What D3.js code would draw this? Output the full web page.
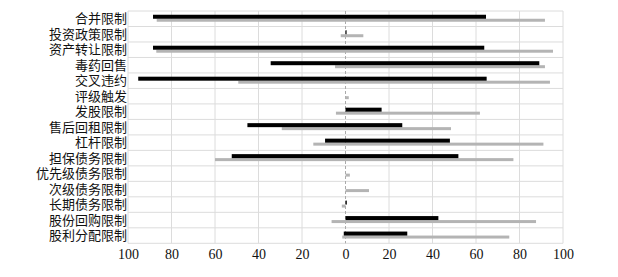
<!DOCTYPE html>
<html>
<head>
<meta charset="utf-8">
<script src="https://cdn.jsdelivr.net/npm/d3@7/dist/d3.min.js"></script>
<style>
  body { margin: 0; background: #fff; }
  svg { display: block; }
  .cat { font-family: "Noto Sans CJK SC", sans-serif; font-size: 13px; fill: #111; }
  .tick text { font-family: "Liberation Serif", serif; font-size: 14px; fill: #111; }
</style>
</head>
<body>
<script>
// categories, top to bottom
const categories = ["合并限制", "投资政策限制", "资产转让限制", "毒药回售", "交叉违约", "评级触发",
  "发股限制", "售后回租限制", "杠杆限制", "担保债务限制", "优先级债务限制", "次级债务限制",
  "长期债务限制", "股份回购限制", "股利分配限制"];

// black series: start / end of each range
const blackStart = [-88.5, 0, -88.5, -34.4, -95.3, 0, 0, -45.1, -9.4, -52.3, 0, 0, 0, 0, -0.8];
const blackEnd   = [64.6, 0.5, 63.8, 89.1, 64.9, 0, 16.6, 26.1, 48, 51.9, 0, 0, 0.6, 42.7, 28.4];

// gray series: start / end of each range
const grayStart = [-86.8, -2.2, -87, -4.8, -49.3, 0, -4.4, -29.3, -14.8, -60, 0, 0, -1.7, -6.4, -1.5];
const grayEnd   = [91.7, 8.2, 95.4, 91.7, 94, 1.5, 61.8, 48.5, 91, 77.2, 2, 10.8, 0, 87.6, 75.3];

const tickValues = [-100, -80, -60, -40, -20, 0, 20, 40, 60, 80, 100];

const w = 618, h = 277;
const plotLeft = 128, plotRight = 563, plotTop = 11, plotBottom = 243.3;

const svg = d3.select("body").append("svg")
  .attr("width", w)
  .attr("height", h);

const x = d3.scaleLinear().domain([-100, 100]).range([plotLeft, plotRight]);
const y = d3.scaleBand().domain(categories).range([plotTop, plotBottom]);

// grid
const grid = svg.append("g");
grid.selectAll("line.v")
  .data(tickValues.filter(d => d !== 0))
  .enter().append("line")
  .attr("x1", d => x(d)).attr("x2", d => x(d))
  .attr("y1", plotTop).attr("y2", plotBottom)
  .attr("stroke", "#dcdcdc").attr("stroke-width", 1);

grid.selectAll("line.h")
  .data(d3.range(categories.length + 1))
  .enter().append("line")
  .attr("x1", plotLeft).attr("x2", plotRight)
  .attr("y1", i => plotTop + i * y.step()).attr("y2", i => plotTop + i * y.step())
  .attr("stroke", "#dcdcdc").attr("stroke-width", 1);

// zero line
svg.append("line")
  .attr("x1", x(0)).attr("x2", x(0))
  .attr("y1", plotTop).attr("y2", plotBottom)
  .attr("stroke", "#aaa")
  .attr("stroke-dasharray", "3,2");

// gray bars (sit just under the black ones)
svg.selectAll("rect.gray")
  .data(categories)
  .enter().append("rect")
  .attr("class", "gray")
  .attr("x", (d, i) => x(Math.min(grayStart[i], grayEnd[i])))
  .attr("width", (d, i) => Math.abs(x(grayEnd[i]) - x(grayStart[i])))
  .attr("y", d => y(d) + y.bandwidth() / 2)
  .attr("height", 3)
  .attr("fill", "#b4b4b4");

// black bars
svg.selectAll("rect.black")
  .data(categories)
  .enter().append("rect")
  .attr("class", "black")
  .attr("x", (d, i) => x(Math.min(blackStart[i], blackEnd[i])))
  .attr("width", (d, i) => Math.abs(x(blackEnd[i]) - x(blackStart[i])))
  .attr("y", d => y(d) + y.bandwidth() / 2 - 4)
  .attr("height", 4)
  .attr("fill", "#000");

// category labels
svg.selectAll("text.cat")
  .data(categories)
  .enter().append("text")
  .attr("class", "cat")
  .attr("x", plotLeft - 1)
  .attr("y", d => y(d) + y.bandwidth() / 2)
  .attr("dy", "0.35em")
  .attr("text-anchor", "end")
  .text(d => d);

// x axis, labels shown as absolute values
const xAxis = d3.axisBottom(x)
  .tickValues(tickValues)
  .tickFormat(d => Math.abs(d))
  .tickSize(0)
  .tickPadding(6);

svg.append("g")
  .attr("transform", `translate(0, ${plotBottom})`)
  .call(xAxis)
  .call(g => g.select(".domain").remove());
</script>
</body>
</html>
